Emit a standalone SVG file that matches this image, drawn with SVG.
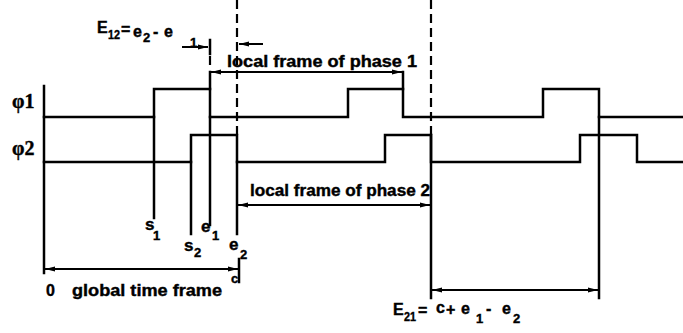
<svg xmlns="http://www.w3.org/2000/svg" width="683" height="333" viewBox="0 0 683 333">
<style>
.ln{fill:none;stroke:#000;stroke-width:2.5;stroke-linecap:square}
.ds{fill:none;stroke:#000;stroke-width:2.2;stroke-dasharray:9,5}
.ar{fill:none;stroke:#000;stroke-width:2}
.t{font-family:"Liberation Sans",Arial,sans-serif;font-weight:bold;fill:#000;stroke:#000;stroke-width:0.4}
.ph{font-family:"Liberation Serif","DejaVu Serif",serif;font-weight:bold;fill:#000;font-size:20px;stroke:#000;stroke-width:0.4}
</style>
<defs>
<marker id="ah" viewBox="0 0 10 6" refX="10" refY="3" markerWidth="10" markerHeight="6" orient="auto-start-reverse" markerUnits="userSpaceOnUse"><path d="M0,0.5 L10,3 L0,5.5 z" fill="#000"/></marker>
</defs>
<rect width="683" height="333" fill="#fff"/>
<g id="axis"><path class="ln" d="M44,86 V273"/></g>
<g id="phase1">
<path class="ln" d="M44,117 H154 V89 H210 V117 H348 V89 H403 V117 H543 V89 H599 V117 H683"/>
<text class="ph" x="12" y="108">φ1</text>
</g>
<g id="phase2">
<path class="ln" d="M44,162 H191 V135 H237 V162 H385 V135 H431 V162 H580 V135 H637 V162 H683"/>
<text class="ph" x="12" y="155">φ2</text>
</g>
<g id="markers">
<path class="ln" d="M154,117 V218 M210,117 V225 M191,162 V234 M237,162 V234 M431,135 V298 M599,117 V298"/>
<path class="ds" d="M237,0 V135 M431,0 V135 M210,56 V70"/>
<path class="ln" d="M210,40 V54 M210,72 V89 M403,72 V89 M239,259 V282"/>
<text class="t" font-size="17" x="145" y="230">s</text><text class="t" font-size="13" x="153" y="240">1</text>
<text class="t" font-size="17" x="184" y="251">s</text><text class="t" font-size="13" x="194" y="257">2</text>
<text class="t" font-size="17" x="201" y="232">e</text><text class="t" font-size="13" x="212" y="240">1</text>
<text class="t" font-size="17" x="229" y="250">e</text><text class="t" font-size="13" x="240" y="259">2</text>
</g>
<g id="connectors">
<path class="ar" d="M182,47 H208" marker-end="url(#ah)"/>
<path class="ar" d="M263,44 H239" marker-end="url(#ah)"/>
<path class="ar" d="M211,72 H402" marker-start="url(#ah)" marker-end="url(#ah)"/>
<path class="ar" d="M238,205 H430" marker-start="url(#ah)" marker-end="url(#ah)"/>
<path class="ar" d="M45,269 H238" marker-start="url(#ah)" marker-end="url(#ah)"/>
<path class="ar" d="M432,290 H598" marker-start="url(#ah)" marker-end="url(#ah)"/>
</g>
<g id="labels">
<text class="t" font-size="16" x="227" y="67" textLength="190" lengthAdjust="spacingAndGlyphs">local frame of phase 1</text>
<text class="t" font-size="16" x="250" y="196" textLength="180" lengthAdjust="spacingAndGlyphs">local frame of phase 2</text>
<text class="t" font-size="16" x="46" y="296">0</text>
<text class="t" font-size="16" x="72" y="296" textLength="150" lengthAdjust="spacingAndGlyphs">global time frame</text>
<text class="t" font-size="13" x="231" y="283">c</text>
<g id="e12">
<text class="t" font-size="16" x="97" y="33">E</text>
<text class="t" font-size="12" x="108" y="39" textLength="12" lengthAdjust="spacingAndGlyphs">12</text>
<text class="t" font-size="16" x="121" y="35">=</text>
<text class="t" font-size="16" x="133" y="37">e</text>
<text class="t" font-size="13" x="143" y="42">2</text>
<text class="t" font-size="16" x="153" y="37">-</text>
<text class="t" font-size="16" x="164" y="37">e</text>
<text class="t" font-size="13" x="190" y="47">1</text>
</g>
<g id="e21">
<text class="t" font-size="16" x="393" y="315">E</text>
<text class="t" font-size="12" x="404" y="321" textLength="12" lengthAdjust="spacingAndGlyphs">21</text>
<text class="t" font-size="16" x="418" y="316">=</text>
<text class="t" font-size="16" x="436" y="313">c</text>
<text class="t" font-size="16" x="446" y="315">+</text>
<text class="t" font-size="16" x="461" y="314">e</text>
<text class="t" font-size="13" x="476" y="323">1</text>
<text class="t" font-size="16" x="486" y="314">-</text>
<text class="t" font-size="16" x="502" y="314">e</text>
<text class="t" font-size="13" x="513" y="323">2</text>
</g>
</g>
</svg>
